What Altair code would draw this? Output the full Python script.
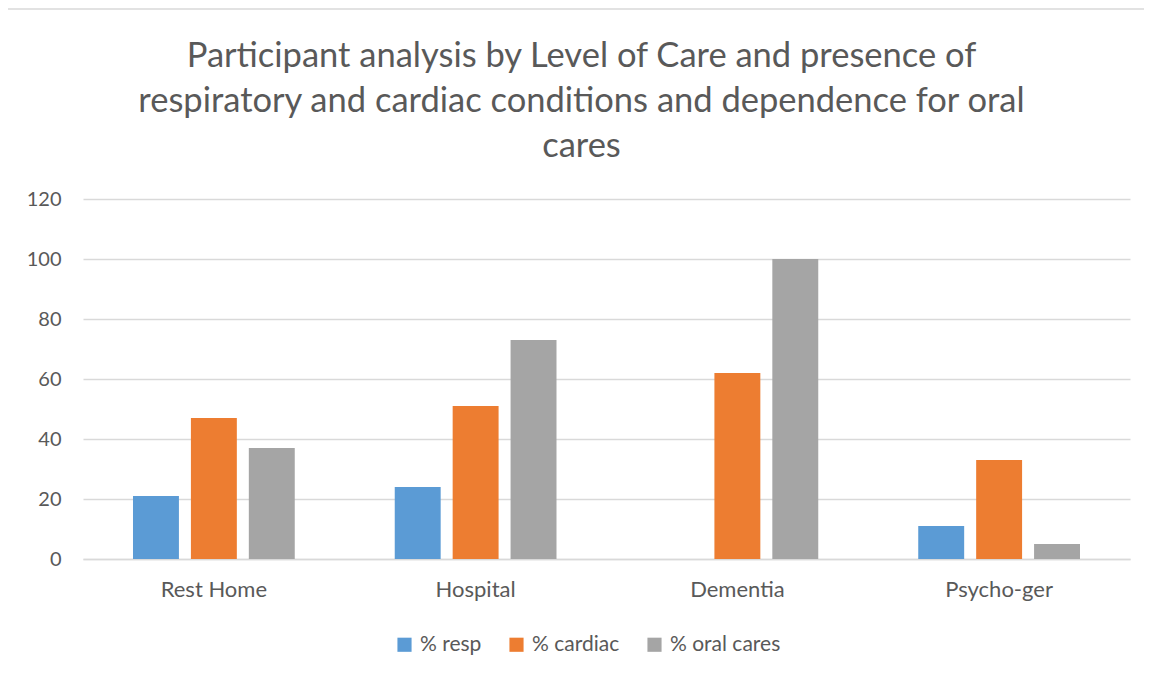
import altair as alt
import pandas as pd

categories = ["Rest Home", "Hospital", "Dementia", "Psycho-ger"]
series = ["% resp", "% cardiac", "% oral cares"]
resp = [21, 24, 0, 11]
cardiac = [47, 51, 62, 33]
oral = [37, 73, 100, 5]
colors = ["#5B9BD5", "#ED7D31", "#A5A5A5"]
y_ticks = [0, 20, 40, 60, 80, 100, 120]

rows = []
for i, c in enumerate(categories):
    for s, vals in zip(series, [resp, cardiac, oral]):
        rows.append({"category": c, "series": s, "value": vals[i]})
df = pd.DataFrame(rows)

FONT = "Lato"
TXT = "#595959"

bars = alt.Chart(df).mark_bar().encode(
    x=alt.X("category:N", sort=categories, title=None,
            scale=alt.Scale(paddingInner=0.382, paddingOuter=0.191),
            axis=alt.Axis(labelAngle=0, labelFont=FONT, labelFontSize=22, labelColor=TXT,
                          labelPadding=20, ticks=False, domain=True, domainColor="#D9D9D9",
                          domainWidth=1.5, grid=False)),
    xOffset=alt.XOffset("series:N", sort=series,
                        scale=alt.Scale(paddingInner=0.207, paddingOuter=0)),
    y=alt.Y("value:Q", title=None,
            scale=alt.Scale(domain=[0, 120]),
            axis=alt.Axis(values=y_ticks, labelFont=FONT, labelFontSize=20, labelColor=TXT,
                          labelPadding=22, ticks=False, domain=False, gridColor="#D9D9D9",
                          gridWidth=1.5)),
    color=alt.Color("series:N", sort=series,
                    scale=alt.Scale(domain=series, range=colors),
                    legend=alt.Legend(title=None, orient="none", direction="horizontal",
                                      legendX=311, legendY=435,
                                      symbolType="square", symbolSize=200,
                                      symbolStrokeWidth=0, labelFont=FONT, labelFontSize=21,
                                      labelColor=TXT, labelOffset=5, columnPadding=24)),
)

frame = alt.Chart(pd.DataFrame({"k": [0]})).mark_rule(color="#D9D9D9", strokeWidth=1.5).encode(
    x=alt.value(-77), x2=alt.value(1080), y=alt.value(-190)
)

chart = alt.layer(frame, bars).properties(
    width=1047, height=360,
    background="white",
    autosize=alt.AutoSizeParams(type="none"),
    padding={"left": 75, "top": 191, "right": 14, "bottom": 108},
    title=alt.TitleParams(
        text=["Participant analysis by Level of Care and presence of",
              "respiratory and cardiac conditions and dependence for oral",
              "cares"],
        font=FONT, fontSize=34.5, fontWeight="normal", color=TXT,
        lineHeight=45, anchor="middle", dx=-25, offset=-156, baseline="top",
    ),
).configure_view(stroke="transparent", strokeWidth=0)

chart.save("out.html", embed_options={"renderer": "svg", "actions": False})
